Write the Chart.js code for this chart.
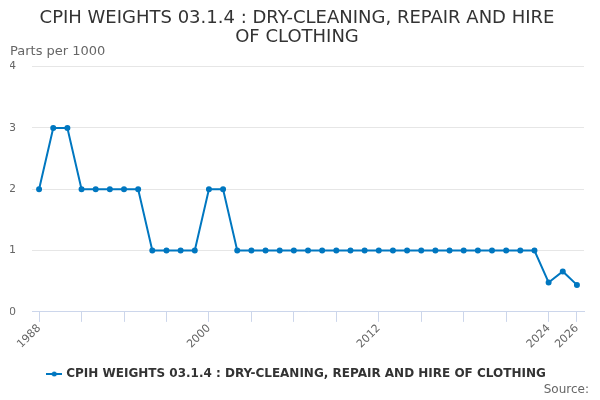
<!DOCTYPE html>
<html lang="en">
<head>
    <meta charset="UTF-8">
    <title>CPIH weights 03.1.4</title>
    <script src="https://cdn.jsdelivr.net/npm/chart.js@4.4.1/dist/chart.umd.min.js"></script>
    <style>
        body { margin: 0; background: #fff; }
        #wrap { width: 600px; height: 400px; position: relative; }
    </style>
</head>
<body>
    <div id="wrap">
        <canvas id="myChart"></canvas>
    </div>

    <script>
        // data
        var years = [];
        for (var y = 1988; y <= 2026; y++) years.push(String(y));
        var weights = [2, 3, 3, 2, 2, 2, 2, 2, 1, 1, 1, 1, 2, 2,
            1, 1, 1, 1, 1, 1, 1, 1, 1, 1, 1, 1, 1, 1, 1, 1, 1, 1, 1, 1, 1, 1,
            0.48, 0.66, 0.44];
        var yTicks = [0, 1, 2, 3, 4];
        var labelYears = ['1988', '2000', '2012', '2024', '2026'];

        var seriesName = 'CPIH WEIGHTS 03.1.4 : DRY-CLEANING, REPAIR AND HIRE OF CLOTHING';
        var blue = '#0077c0';
        var fontFam = '"DejaVu Sans", Verdana, sans-serif';

        // legend marker: short line with a dot
        var mark = document.createElement('canvas');
        mark.width = 16; mark.height = 8;
        var mctx = mark.getContext('2d');
        mctx.strokeStyle = blue; mctx.lineWidth = 2;
        mctx.beginPath(); mctx.moveTo(0, 4); mctx.lineTo(16, 4); mctx.stroke();
        mctx.fillStyle = blue;
        mctx.beginPath(); mctx.arc(8, 4, 2.5, 0, Math.PI * 2); mctx.fill();

        var sourcePlugin = {
            id: 'sourceText',
            afterDraw: function (chart) {
                var c = chart.ctx;
                c.save();
                c.font = '12px ' + fontFam;
                c.fillStyle = '#666';
                c.textAlign = 'right';
                c.textBaseline = 'middle';
                c.fillText('Source:', 589, 390);
                c.restore();
            }
        };

        const ctx = document.getElementById('myChart').getContext('2d');
        const myChart = new Chart(ctx, {
            type: 'line',
            data: {
                labels: years,
                datasets: [{
                    label: seriesName,
                    data: weights,
                    borderColor: blue,
                    backgroundColor: blue,
                    borderWidth: 2,
                    pointRadius: 2,
                    pointHoverRadius: 3,
                    tension: 0
                }]
            },
            plugins: [sourcePlugin],
            options: {
                responsive: true,
                maintainAspectRatio: false,
                animation: false,
                layout: { padding: { left: 10, right: 16, top: 8, bottom: 10 } },
                plugins: {
                    title: {
                        display: true,
                        text: ['CPIH WEIGHTS 03.1.4 : DRY-CLEANING, REPAIR AND HIRE', 'OF CLOTHING'],
                        color: '#333',
                        font: { family: fontFam, size: 18, weight: 'normal', lineHeight: 1.1 },
                        padding: { top: 0, bottom: -2 }
                    },
                    subtitle: {
                        display: true,
                        text: 'Parts per 1000',
                        align: 'start',
                        color: '#666',
                        font: { family: fontFam, size: 13, weight: 'normal', lineHeight: 1.0 },
                        padding: { top: 0, bottom: 8 }
                    },
                    legend: {
                        position: 'bottom',
                        labels: {
                            color: '#333',
                            font: { family: fontFam, size: 12, weight: 'bold' },
                            usePointStyle: true,
                            padding: 17,
                            generateLabels: function (chart) {
                                var items = Chart.defaults.plugins.legend.labels.generateLabels(chart);
                                items.forEach(function (it) { it.pointStyle = mark; });
                                return items;
                            }
                        }
                    },
                    tooltip: { enabled: false }
                },
                scales: {
                    x: {
                        offset: true,
                        afterFit: function (axis) {
                            axis.paddingLeft = 0;
                        },
                        grid: {
                            drawOnChartArea: false,
                            drawTicks: true,
                            tickLength: 10,
                            tickColor: '#ccd6eb',
                            offset: false
                        },
                        border: { display: true, color: '#ccd6eb' },
                        ticks: {
                            autoSkip: false,
                            maxRotation: 45,
                            minRotation: 45,
                            color: '#666',
                            font: { family: fontFam, size: 11 },
                            padding: 0,
                            callback: function (val, i) {
                                var lab = years[i];
                                if (labelYears.indexOf(lab) >= 0) return lab;
                                if (i % 3 === 0) return '';
                                return null;
                            }
                        }
                    },
                    y: {
                        min: 0,
                        max: 4,
                        afterBuildTicks: function (axis) {
                            axis.ticks = yTicks.map(function (v) { return { value: v }; });
                        },
                        afterFit: function (axis) {
                            axis.width = 22;
                        },
                        grid: { color: '#e6e6e6', drawTicks: false },
                        border: { display: false },
                        ticks: {
                            color: '#666',
                            font: { family: fontFam, size: 11 },
                            padding: 16
                        }
                    }
                }
            }
        });
    </script>
</body>
</html>
